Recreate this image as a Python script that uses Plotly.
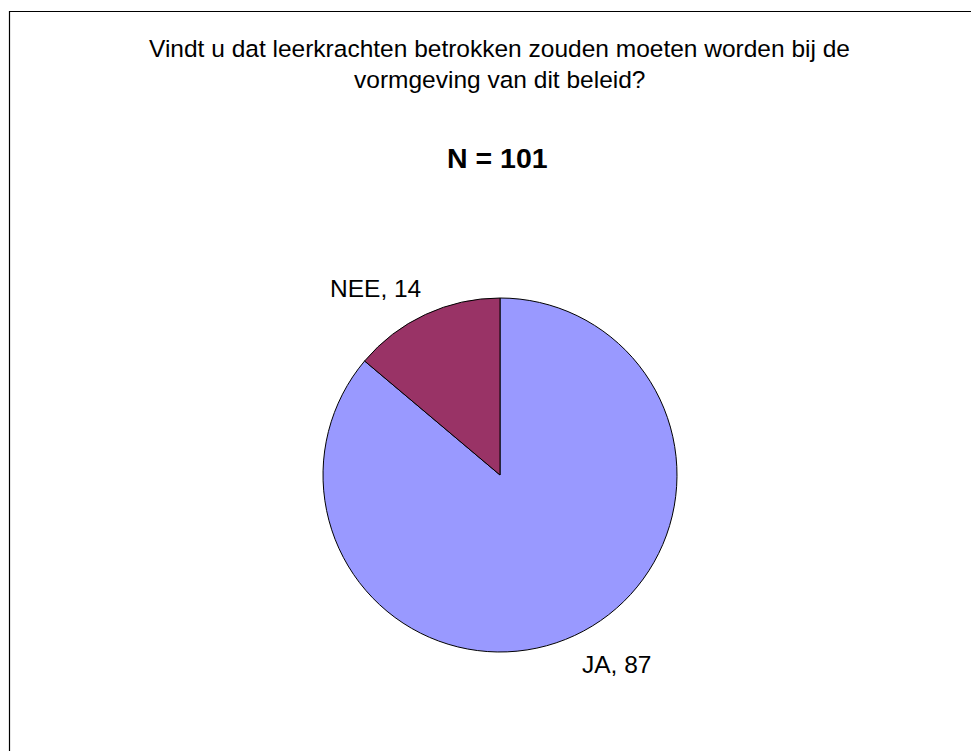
import plotly.graph_objects as go

labels = ["JA", "NEE"]
values = [87, 14]
colors = ["#9999FF", "#993366"]
title_lines = ["Vindt u dat leerkrachten betrokken zouden moeten worden bij de",
               "vormgeving van dit beleid?"]
subtitle = "N = 101"

# page has an 8px body margin; figure coordinates = page coordinates - 8
OFF = 8
W, H = 979 - OFF, 751 - OFF
cx, cy, r = 500 - OFF, 475 - OFF, 177

fig = go.Figure(go.Pie(
    labels=labels, values=values, sort=False, direction="clockwise",
    rotation=0, marker=dict(colors=colors, line=dict(color="black", width=1)),
    textinfo="none", hoverinfo="label+value", showlegend=False,
    domain=dict(x=[(cx - r) / W, (cx + r) / W], y=[(H - cy - r) / H, (H - cy + r) / H]),
))

font = "Liberation Sans, Arial, sans-serif"


def px(x, y):
    return (x - OFF) / W, 1 - (y - OFF) / H


ann = []
for txt, yy in zip(title_lines, [48.5, 79.5]):
    x, y = px(499.5, yy)
    ann.append(dict(text=txt, x=x, y=y, xref="paper", yref="paper",
                    showarrow=False, xanchor="center", yanchor="middle",
                    font=dict(size=24.5, color="black", family=font)))
x, y = px(497.5, 158)
ann.append(dict(text="<b>" + subtitle + "</b>", x=x, y=y, xref="paper", yref="paper",
                showarrow=False, xanchor="center", yanchor="middle",
                font=dict(size=28.5, color="black", family=font)))
label_pos = [(616.5, 664.5), (375.5, 288.5)]
for lab, val, (lx, ly) in zip(labels, values, label_pos):
    x, y = px(lx, ly)
    ann.append(dict(text=f"{lab}, {val}", x=x, y=y, xref="paper", yref="paper",
                    showarrow=False, xanchor="center", yanchor="middle",
                    font=dict(size=24.5, color="black", family=font)))

bx0, by1 = px(9.5, 11.5)
fig.update_layout(
    width=W, height=H, margin=dict(l=0, r=0, t=0, b=0),
    paper_bgcolor="white", plot_bgcolor="white",
    annotations=ann,
    shapes=[dict(type="rect", xref="paper", yref="paper",
                 x0=bx0, x1=1.05, y0=-0.05, y1=by1,
                 line=dict(color="black", width=1.2), fillcolor="rgba(0,0,0,0)")],
)
fig.write_html("out.html")
